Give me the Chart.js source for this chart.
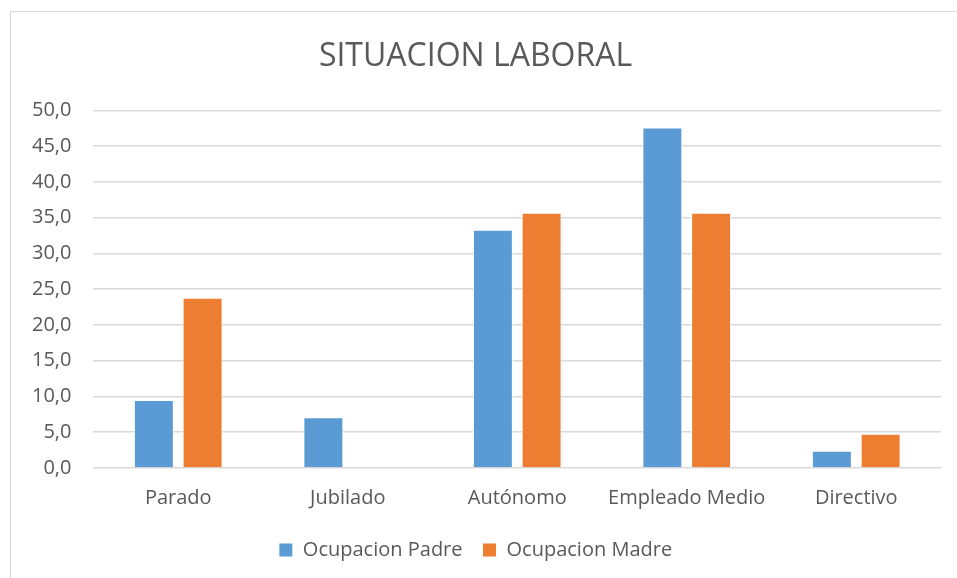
<!DOCTYPE html>
<html>
<head>
<meta charset="utf-8">
<script src="https://cdn.jsdelivr.net/npm/chart.js@4.4.0/dist/chart.umd.min.js"></script>
<style>
    body { margin: 0; background: #fff; }
    #marco { position: absolute; left: 10px; top: 11px; width: 960px; height: 580px; border: 1px solid #d9d9d9; }
    #lienzo { position: absolute; left: 0; top: 0; width: 957px; height: 578px; }
</style>
</head>
<body>
<div id="marco"></div>
<div id="lienzo"><canvas id="grafico"></canvas></div>
<script>
const categorias = ['Parado', 'Jubilado', 'Autónomo', 'Empleado Medio', 'Directivo'];
const ocupacionPadre = [9.5, 7.1, 33.3, 47.6, 2.4];
const ocupacionMadre = [23.8, 0, 35.7, 35.7, 4.8];
const ticksY = [0, 5, 10, 15, 20, 25, 30, 35, 40, 45, 50];

const fuente = "'Open Sans', 'Noto Sans', sans-serif";
const gris = '#595959';

const ctx = document.getElementById('grafico').getContext('2d');

new Chart(ctx, {
    type: 'bar',
    data: {
        labels: categorias,
        datasets: [
            {
                label: 'Ocupacion Padre',
                data: ocupacionPadre,
                backgroundColor: '#5B9BD5',
                borderColor: '#ffffff',
                borderWidth: 1
            },
            {
                label: 'Ocupacion Madre',
                data: ocupacionMadre,
                backgroundColor: '#ED7D31',
                borderColor: '#ffffff',
                borderWidth: 1
            }
        ]
    },
    options: {
        responsive: true,
        maintainAspectRatio: false,
        animation: false,
        categoryPercentage: 0.575,
        barPercentage: 0.82,
        layout: { padding: { left: 10, right: 16, top: 38, bottom: 8 } },
        plugins: {
            title: {
                display: true,
                text: 'SITUACION LABORAL',
                color: gris,
                font: { family: fuente, size: 32, weight: 'normal' },
                padding: { top: 0, bottom: 34 }
            },
            legend: {
                position: 'bottom',
                labels: {
                    color: gris,
                    font: { family: fuente, size: 20 },
                    boxWidth: 14,
                    boxHeight: 14,
                    padding: 20
                }
            },
            tooltip: { enabled: false }
        },
        scales: {
            x: {
                grid: { display: false },
                border: { display: false },
                ticks: { color: gris, font: { family: fuente, size: 20 }, padding: 10 }
            },
            y: {
                min: 0,
                max: 50,
                afterBuildTicks: (eje) => { eje.ticks = ticksY.map(v => ({ value: v })); },
                grid: { color: '#d9d9d9', lineWidth: 1.5, drawTicks: false },
                border: { display: false },
                ticks: {
                    color: gris,
                    font: { family: fuente, size: 20 },
                    padding: 22,
                    callback: (v) => v.toFixed(1).replace('.', ',')
                }
            }
        }
    }
});
</script>
</body>
</html>
